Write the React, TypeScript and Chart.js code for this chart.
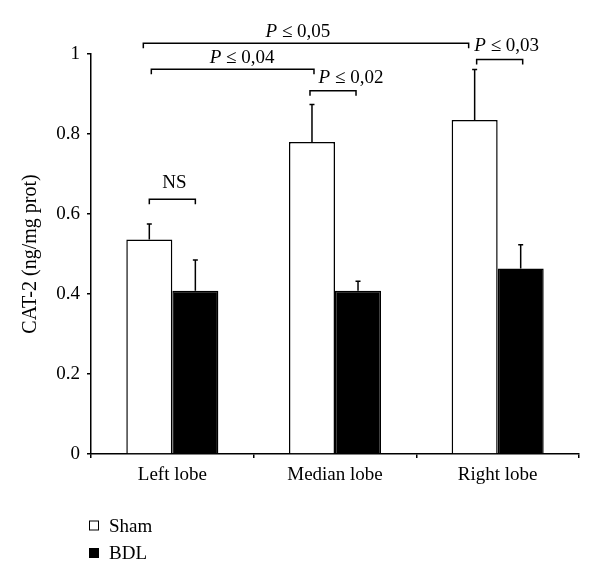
import React, { useEffect, useRef } from "react";
import { Chart, registerables } from "chart.js";

Chart.register(...registerables);

const categories = ["Left lobe", "Median lobe", "Right lobe"];
const seriesNames = ["Sham", "BDL"];
const shamValues = [0.536, 0.78, 0.835];
const shamErrors = [0.039, 0.094, 0.126];
const bdlValues = [0.408, 0.408, 0.464];
const bdlErrors = [0.077, 0.024, 0.059];
const yTickValues = [0, 0.2, 0.4, 0.6, 0.8, 1];
const yTickLabels = ["0", "0.2", "0.4", "0.6", "0.8", "1"];
const yTitle = "CAT-2 (ng/mg prot)";

// significance brackets: from/to = [datasetIndex, categoryIndex]
const brackets = [
  { italic: "", text: "NS", from: [0, 0], to: [1, 0], level: 0.637, shift: 0, dx: 2, dy: -11 },
  { italic: "P", text: " \u2264 0,04", from: [0, 0], to: [0, 1], level: 0.962, shift: 2, dx: 9.5, dy: -6 },
  { italic: "P", text: " \u2264 0,05", from: [0, 0], to: [0, 2], level: 1.027, shift: -6, dx: -8, dy: -6 },
  { italic: "P", text: " \u2264 0,02", from: [0, 1], to: [1, 1], level: 0.908, shift: -2, dx: 18, dy: -8 },
  { italic: "P", text: " \u2264 0,03", from: [0, 2], to: [1, 2], level: 0.986, shift: 2, dx: 7, dy: -9 },
];

const FONT = "'Liberation Serif', 'DejaVu Serif', serif";
const FS = 19;

const overlayPlugin = {
  id: "overlay",
  afterDatasetsDraw(chart: any) {
    const ctx = chart.ctx as CanvasRenderingContext2D;
    const yScale = chart.scales.y;
    ctx.save();
    ctx.strokeStyle = "#000";
    ctx.fillStyle = "#000";
    ctx.lineWidth = 1.5;
    // error bars
    const vals = [shamValues, bdlValues];
    const errs = [shamErrors, bdlErrors];
    for (let d = 0; d < 2; d++) {
      const meta = chart.getDatasetMeta(d);
      meta.data.forEach((bar: any, i: number) => {
        const x = bar.x;
        const yTop = yScale.getPixelForValue(vals[d][i] + errs[d][i]);
        ctx.beginPath();
        ctx.moveTo(x, bar.y);
        ctx.lineTo(x, yTop);
        ctx.moveTo(x - 2.5, yTop);
        ctx.lineTo(x + 2.5, yTop);
        ctx.stroke();
      });
    }
    // brackets
    for (const b of brackets) {
      const b1 = chart.getDatasetMeta(b.from[0]).data[b.from[1]];
      const b2 = chart.getDatasetMeta(b.to[0]).data[b.to[1]];
      const x1 = b1.x + b.shift;
      const x2 = b2.x + b.shift;
      const yL = yScale.getPixelForValue(b.level);
      ctx.beginPath();
      ctx.moveTo(x1, yL + 5);
      ctx.lineTo(x1, yL);
      ctx.lineTo(x2, yL);
      ctx.lineTo(x2, yL + 5);
      ctx.stroke();
      const cx = (x1 + x2) / 2 + b.dx;
      const by = yL + b.dy;
      ctx.textBaseline = "alphabetic";
      ctx.textAlign = "left";
      ctx.font = `italic ${FS}px ${FONT}`;
      const w1 = b.italic ? ctx.measureText(b.italic).width : 0;
      ctx.font = `${FS}px ${FONT}`;
      const w2 = ctx.measureText(b.text).width;
      let sx = cx - (w1 + w2) / 2;
      if (b.italic) {
        ctx.font = `italic ${FS}px ${FONT}`;
        ctx.fillText(b.italic, sx, by);
        sx += w1;
      }
      ctx.font = `${FS}px ${FONT}`;
      ctx.fillText(b.text, sx, by);
    }
    // legend
    const legendY = [525.5, 553];
    const fills = ["#fff", "#000"];
    ctx.lineWidth = 1;
    seriesNames.forEach((name, i) => {
      const cy = legendY[i];
      ctx.fillStyle = fills[i];
      ctx.fillRect(89.5, cy - 4.5, 9, 9);
      ctx.strokeStyle = "#000";
      ctx.strokeRect(89.5, cy - 4.5, 9, 9);
      ctx.fillStyle = "#000";
      ctx.font = `${FS}px ${FONT}`;
      ctx.textAlign = "left";
      ctx.textBaseline = "alphabetic";
      ctx.fillText(name, 109, cy + 6);
    });
    ctx.restore();
  },
};

export default function App() {
  const canvasRef = useRef<HTMLCanvasElement | null>(null);

  useEffect(() => {
    const canvas = canvasRef.current;
    if (!canvas) return;
    const chart = new Chart(canvas, {
      type: "bar",
      data: {
        labels: categories,
        datasets: [
          {
            label: seriesNames[0],
            data: shamValues,
            backgroundColor: "#ffffff",
            borderColor: "#000000",
            borderWidth: 1.5,
            categoryPercentage: 0.566,
            barPercentage: 1.0,
          },
          {
            label: seriesNames[1],
            data: bdlValues,
            backgroundColor: "#000000",
            borderColor: "#000000",
            borderWidth: 1.5,
            categoryPercentage: 0.566,
            barPercentage: 1.0,
          },
        ],
      },
      options: {
        responsive: false,
        animation: false,
        devicePixelRatio: 1,
        layout: { padding: { top: 54, right: 21, bottom: 0, left: 0 } },
        plugins: {
          legend: { display: false },
          tooltip: { enabled: false },
          title: { display: false },
        },
        scales: {
          x: {
            afterFit: (s: any) => {
              s.height = 133;
            },
            grid: {
              display: true,
              drawOnChartArea: false,
              drawTicks: true,
              tickLength: 4,
              color: "#000",
              lineWidth: 1.5,
            },
            border: { display: true, color: "#000", width: 1.5 },
            ticks: {
              color: "#000",
              padding: 6,
              font: { family: FONT, size: FS },
            },
          },
          y: {
            min: 0,
            max: 1,
            afterFit: (s: any) => {
              s.width = 91;
            },
            afterBuildTicks: (s: any) => {
              s.ticks = yTickValues.map((v) => ({ value: v }));
            },
            grid: {
              display: true,
              drawOnChartArea: false,
              drawTicks: true,
              tickLength: 4,
              color: "#000",
              lineWidth: 1.5,
            },
            border: { display: true, color: "#000", width: 1.5 },
            ticks: {
              color: "#000",
              padding: 7,
              font: { family: FONT, size: FS },
              callback: (value: any) => {
                const idx = yTickValues.findIndex((v) => Math.abs(v - Number(value)) < 1e-9);
                return idx >= 0 ? yTickLabels[idx] : "";
              },
            },
            title: {
              display: true,
              text: yTitle,
              color: "#000",
              font: { family: FONT, size: 20 },
              padding: { top: 19, bottom: 0 },
            },
          },
        },
      },
      plugins: [overlayPlugin],
    });
    return () => chart.destroy();
  }, []);

  return (
    <div style={{ position: "fixed", left: 0, top: 0, width: 600, height: 587, background: "#fff" }}>
      <canvas ref={canvasRef} width={600} height={587} style={{ display: "block" }} />
    </div>
  );
}
